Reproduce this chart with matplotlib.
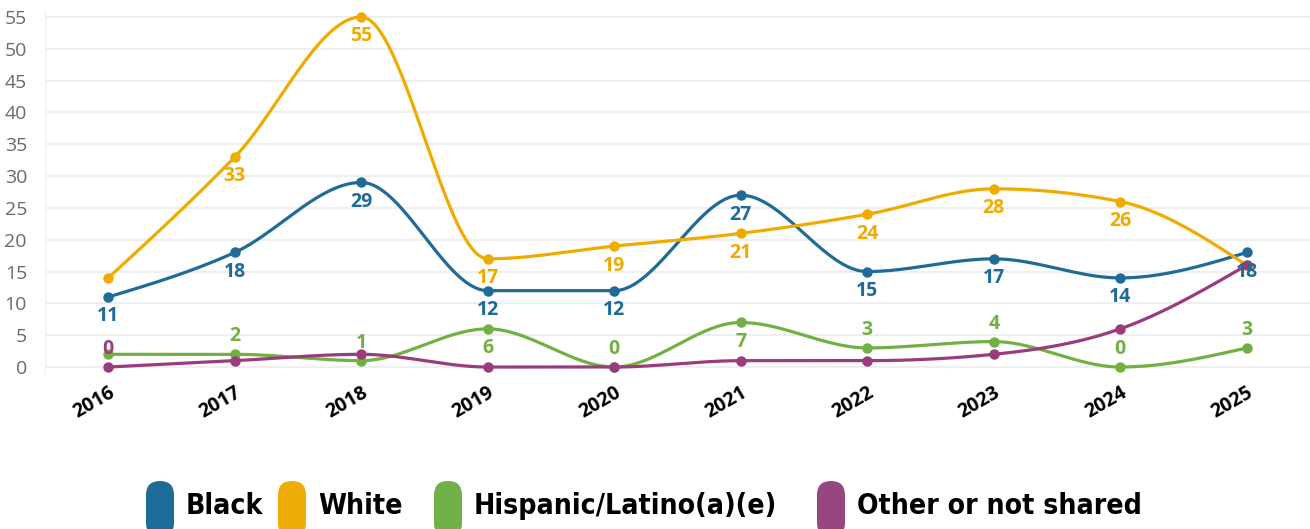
import numpy as np
import matplotlib.pyplot as plt
from matplotlib.patches import FancyBboxPatch
from matplotlib.transforms import ScaledTranslation

# datos
years = ['2016', '2017', '2018', '2019', '2020', '2021', '2022', '2023', '2024', '2025']
black = [11, 18, 29, 12, 12, 27, 15, 17, 14, 18]
white = [14, 33, 55, 17, 19, 21, 24, 28, 26, 16]
hispanic = [2, 2, 1, 6, 0, 7, 3, 4, 0, 3]
other = [0, 1, 2, 0, 0, 1, 1, 2, 6, 16]

series_names = ['Black', 'White', 'Hispanic/Latino(a)(e)', 'Other or not shared']
line_colors = ['#1f6b98', '#f0ab00', '#72b043', '#9a3b7c']
pill_colors = ['#1d6b97', '#efac05', '#72b04a', '#97477f']

# which labels are shown and where (1 = below point, -1 = above, 0 = hidden)
label_side = {
    'Black': [1, 1, 1, 1, 1, 1, 1, 1, 1, 1],
    'White': [0, 1, 1, 1, 1, 1, 1, 1, 1, 0],
    'Hispanic/Latino(a)(e)': [0, -1, -1, 1, -1, 1, -1, -1, -1, -1],
    'Other or not shared': [-1, 0, 0, 0, 0, 0, 0, 0, 0, 0],
}


def monotone_curve(y, n=40):
    # interpolacion monotona (tipo d3 curveMonotoneX)
    y = np.asarray(y, dtype=float)
    x = np.arange(len(y), dtype=float)
    h = np.diff(x)
    s = np.diff(y) / h
    m = np.zeros(len(y))
    for i in range(1, len(y) - 1):
        p = (s[i - 1] * h[i] + s[i] * h[i - 1]) / (h[i - 1] + h[i])
        m[i] = (np.sign(s[i - 1]) + np.sign(s[i])) * min(abs(s[i - 1]), abs(s[i]), 0.5 * abs(p))
    m[0] = (3 * s[0] - m[1]) / 2
    m[-1] = (3 * s[-1] - m[-2]) / 2
    xs, ys = [], []
    for i in range(len(y) - 1):
        t = np.linspace(0, 1, n)
        h00 = 2 * t**3 - 3 * t**2 + 1
        h10 = t**3 - 2 * t**2 + t
        h01 = -2 * t**3 + 3 * t**2
        h11 = t**3 - t**2
        xs.append(x[i] + t * h[i])
        ys.append(h00 * y[i] + h10 * h[i] * m[i] + h01 * y[i + 1] + h11 * h[i] * m[i + 1])
    return np.concatenate(xs), np.concatenate(ys)


fig = plt.figure(figsize=(13.1, 5.29), dpi=100)
ax = fig.add_axes([45 / 1310, 1 - 373.4 / 529, 1 - 45 / 1310, (373.4 - 10.6) / 529])

all_series = [black, white, hispanic, other]
for name, vals, col in zip(series_names, all_series, line_colors):
    xs, ys = monotone_curve(vals)
    ax.plot(xs, ys, color=col, linewidth=2.3, solid_capstyle='round', zorder=3)
    ax.plot(range(len(vals)), vals, 'o', color=col, markersize=6.5, zorder=4)

for name, vals, col in zip(series_names, all_series, line_colors):
    for i, v in enumerate(vals):
        side = label_side[name][i]
        if side == 0:
            continue
        ax.annotate(str(v), (i, v), xytext=(0, -14 if side > 0 else 13),
                    textcoords='offset points', ha='center', va='center',
                    fontsize=14, fontweight='bold', color=col, family='Open Sans', zorder=5)

ax.set_xlim(-0.5, 9.5)
ax.set_ylim(-1, 56)
ax.set_yticks(range(0, 56, 5))
ax.set_xticks(range(len(years)))
ax.set_xticklabels(years, rotation=30, ha='right', rotation_mode='anchor',
                   fontsize=14, fontweight='bold', family='Open Sans')
for lab in ax.get_xticklabels():
    lab.set_transform(lab.get_transform() + ScaledTranslation(0.1, 0.0, fig.dpi_scale_trans))
ax.tick_params(axis='y', labelsize=14, labelcolor='#6a6a6a', length=0, pad=13)
ax.tick_params(axis='x', length=0, pad=7)
for lab in ax.get_yticklabels():
    lab.set_family('Open Sans')
ax.grid(axis='y', color='#eeeeee', linewidth=1.3)
for sp in ['top', 'right', 'bottom']:
    ax.spines[sp].set_visible(False)
ax.spines['left'].set_color('#f0f0f0')

# leyenda con pastillas redondeadas
leg = fig.add_axes([0, 0, 1, 1])
leg.set_xlim(0, 1310)
leg.set_ylim(529, 0)
leg.axis('off')
pill_x = [146, 278, 434, 817]
for px, col, name in zip(pill_x, pill_colors, series_names):
    leg.add_patch(FancyBboxPatch((px, 481), 28, 56, boxstyle='round,pad=0,rounding_size=14',
                                 facecolor=col, edgecolor='none'))
    leg.text(px + 40, 506, name, fontsize=20.3, fontweight='bold', va='center', ha='left',
             family='DejaVu Sans', fontstretch='condensed', color='black')

fig.savefig('out.png', dpi=100)
